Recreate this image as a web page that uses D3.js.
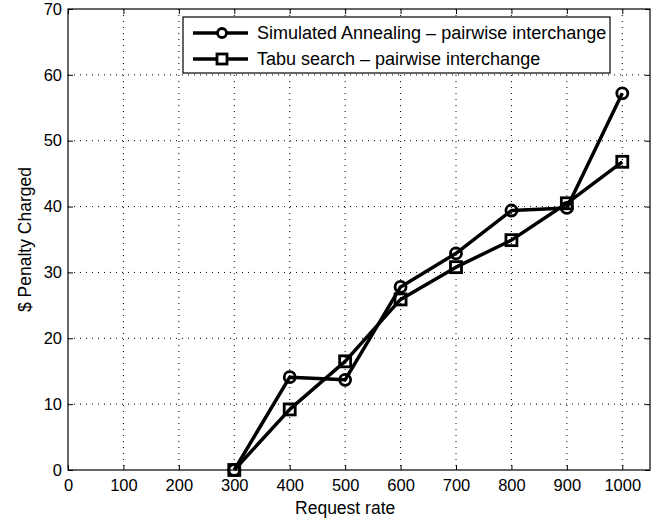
<!DOCTYPE html>
<html>
<head>
<meta charset="utf-8">
<script src="https://cdn.jsdelivr.net/npm/d3@7"></script>
<style>
  html, body { margin:0; padding:0; background:#fff; }
  svg { display:block; font-family:'Liberation Sans', Arial, sans-serif; }
</style>
</head>
<body>
<svg id="chart" width="656" height="519"></svg>
<script>
/* ---------- data ---------- */
const requestRates = [300, 400, 500, 600, 700, 800, 900, 1000];
const saPenalty    = [0, 14.1, 13.7, 27.8, 32.9, 39.4, 39.8, 57.2];
const tabuPenalty  = [0, 9.2, 16.5, 25.9, 30.8, 34.9, 40.5, 46.8];
const xTicks = [0,100,200,300,400,500,600,700,800,900,1000];
const yTicks = [0,10,20,30,40,50,60,70];
const seriesNames = ['Simulated Annealing \u2013 pairwise interchange', 'Tabu search \u2013 pairwise interchange'];

/* ---------- layout ---------- */
const svg = d3.select('#chart');
const margin = { top:9, right:6, bottom:49, left:68 };
const W = 656, H = 519;
const cw = W - margin.left - margin.right, ch = H - margin.top - margin.bottom;

const x = d3.scaleLinear().domain([0,1050]).range([0, cw]);
const y = d3.scaleLinear().domain([0,70]).range([ch, 0]);

const g = svg.append('g').attr('transform', `translate(${margin.left},${margin.top})`);

// dotted grid
g.append('g').selectAll('line').data(xTicks.slice(1)).join('line')
  .attr('x1', d => x(d)).attr('x2', d => x(d)).attr('y1', 0).attr('y2', ch)
  .style('stroke','#000').style('stroke-width',1).style('stroke-dasharray','1,5');
g.append('g').selectAll('line').data(yTicks.slice(1, -1)).join('line')
  .attr('x1', 0).attr('x2', cw).attr('y1', d => y(d)).attr('y2', d => y(d))
  .style('stroke','#000').style('stroke-width',1).style('stroke-dasharray','1,5');

// axes: ticks pointing inward on all four sides
const styleAxis = sel => {
  sel.select('.domain').remove();
  sel.selectAll('line').style('stroke','#000').style('stroke-width',1);
  sel.selectAll('text').style('font-size','16.5px').style('fill','#000')
    .style('font-family',"'Liberation Sans', Arial, sans-serif");
};
g.append('g').attr('transform', `translate(0,${ch})`)
  .call(d3.axisBottom(x).tickValues(xTicks).tickSize(-5).tickPadding(9).tickFormat(d3.format('d')))
  .call(styleAxis);
g.append('g')
  .call(d3.axisLeft(y).tickValues(yTicks).tickSize(-5).tickPadding(6).tickFormat(d3.format('d')))
  .call(styleAxis);
g.append('g')
  .call(d3.axisTop(x).tickValues(xTicks).tickSize(-5).tickFormat(''))
  .call(styleAxis);
g.append('g').attr('transform', `translate(${cw},0)`)
  .call(d3.axisRight(y).tickValues(yTicks).tickSize(-5).tickFormat(''))
  .call(styleAxis);

g.append('rect').attr('x',0).attr('y',0).attr('width',cw).attr('height',ch)
  .style('fill','none').style('stroke','#000').style('stroke-width',1.2);

// series
const line = d3.line().x(d => x(d[0])).y(d => y(d[1]));
const saPts = requestRates.map((r,i) => [r, saPenalty[i]]);
const tabuPts = requestRates.map((r,i) => [r, tabuPenalty[i]]);

[saPts, tabuPts].forEach(pts => {
  g.append('path').datum(pts).attr('d', line)
    .style('fill','none').style('stroke','#000').style('stroke-width',3.5).style('stroke-linejoin','round');
});

g.append('g').selectAll('rect').data(tabuPts).join('rect')
  .attr('x', d => x(d[0]) - 5.5).attr('y', d => y(d[1]) - 5.5)
  .attr('width', 11).attr('height', 11)
  .style('fill','none').style('stroke','#000').style('stroke-width',2.8);
g.append('g').selectAll('circle').data(saPts).join('circle')
  .attr('cx', d => x(d[0])).attr('cy', d => y(d[1])).attr('r', 5.5)
  .style('fill','none').style('stroke','#000').style('stroke-width',2.8);

// axis labels
svg.append('text').attr('x', margin.left + x(500)).attr('y', 514)
  .attr('text-anchor','middle').style('font-size','17.5px').text('Request rate');
svg.append('text').attr('transform', `translate(31,${margin.top + ch/2}) rotate(-90)`)
  .attr('text-anchor','middle').style('font-size','17.5px').text('$ Penalty Charged');

// legend
const lg = svg.append('g').attr('transform', 'translate(183,17)');
lg.append('rect').attr('width', 427).attr('height', 56)
  .style('fill','#fff').style('stroke','#000').style('stroke-width',1.2);
seriesNames.forEach((name, i) => {
  const ly = 16 + i * 26;
  lg.append('line').attr('x1', 10).attr('x2', 65).attr('y1', ly).attr('y2', ly)
    .style('stroke','#000').style('stroke-width',3.5);
  if (i === 0) {
    lg.append('circle').attr('cx', 39).attr('cy', ly).attr('r', 4.5)
      .style('fill','#fff').style('stroke','#000').style('stroke-width',2.8);
  } else {
    lg.append('rect').attr('x', 34).attr('y', ly - 5).attr('width', 10).attr('height', 10)
      .style('fill','#fff').style('stroke','#000').style('stroke-width',2.8);
  }
  lg.append('text').attr('x', 74).attr('y', ly + 6).style('font-size','18px').text(name);
});
</script>
</body>
</html>
